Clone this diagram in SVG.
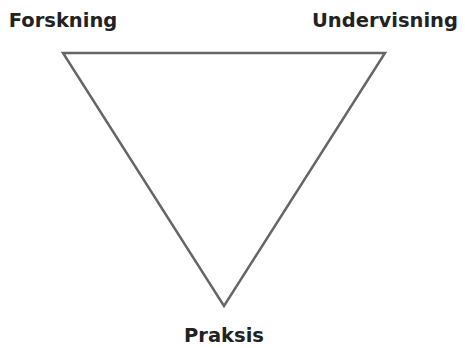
<svg xmlns="http://www.w3.org/2000/svg" width="465" height="348" viewBox="0 0 465 348">
<style>
.lbl{font-family:"DejaVu Sans","Liberation Sans",sans-serif;font-weight:bold;font-size:19.5px;fill:#222}
.edge{fill:none;stroke:#666;stroke-width:2.5;stroke-linejoin:miter}
</style>
<rect width="465" height="348" fill="#fff"/>
<g id="connectors">
<polygon class="edge" points="63,53 385,53 224,306"/>
</g>
<g id="node-forskning"><text class="lbl" x="63" y="27" text-anchor="middle">Forskning</text></g>
<g id="node-undervisning"><text class="lbl" x="385" y="27" text-anchor="middle">Undervisning</text></g>
<g id="node-praksis"><text class="lbl" x="224" y="342" text-anchor="middle">Praksis</text></g>
</svg>
